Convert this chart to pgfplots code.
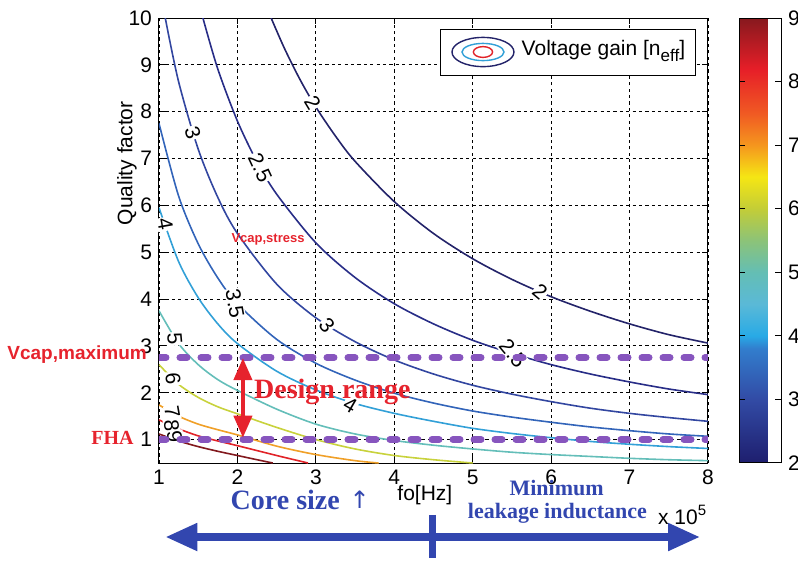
\documentclass[border=0pt]{standalone}
\usepackage{pgfplots}
\pgfplotsset{compat=1.18}
\usepackage{fontspec}
\setmainfont{Liberation Sans}
\newfontfamily\tms{Liberation Serif}
\newfontfamily\djv{DejaVu Sans}
\usetikzlibrary{arrows.meta}
\pgfkeys{/pgf/number format/assume math mode=true}
\definecolor{c2}{RGB}{35,35,105}
\definecolor{c25}{RGB}{40,45,135}
\definecolor{c3}{RGB}{50,70,160}
\definecolor{c35}{RGB}{50,100,185}
\definecolor{c4}{RGB}{50,160,215}
\definecolor{c5}{RGB}{100,190,185}
\definecolor{c6}{RGB}{200,210,60}
\definecolor{c7}{RGB}{240,160,40}
\definecolor{c8}{RGB}{225,35,40}
\definecolor{c9}{RGB}{130,25,30}
\definecolor{vpurple}{RGB}{135,85,190}
\definecolor{ared}{RGB}{230,35,45}
\definecolor{ablue}{RGB}{50,70,175}
\tikzset{cl/.style={line width=0.8pt, smooth},
  clab/.style={font=\fontsize{10.5}{11}\selectfont, fill=white, inner sep=0.5pt}}
\begin{document}
\begin{tikzpicture}
\path[use as bounding box] (-79.5pt,-49.5pt) rectangle (319.5pt,231.5pt);
\begin{axis}[
  scale only axis, width=274.5pt, height=222.5pt,
  xmin=1, xmax=8, ymin=0.5, ymax=10,
  xtick={1,...,8}, ytick={1,...,10},
  grid=major,
  major grid style={black, line width=0.4pt, dash pattern=on 1.6pt off 1.6pt},
  axis line style={black, line width=0.5pt},
  tick style={black, line width=0.5pt}, major tick length=3pt,
  tick label style={font=\fontsize{10.5}{12}\selectfont},
  clip mode=individual,
  colormap={refjet}{rgb255(0cm)=(30,30,110) rgb255(1cm)=(50,75,165) rgb255(1.8cm)=(50,125,205) rgb255(2cm)=(40,170,230) rgb255(2.5cm)=(90,185,215) rgb255(3cm)=(100,190,180) rgb255(3.5cm)=(140,195,120) rgb255(4cm)=(195,205,55) rgb255(4.5cm)=(245,230,20) rgb255(5cm)=(245,150,30) rgb255(5.5cm)=(240,90,35) rgb255(6.2cm)=(230,30,40) rgb255(7cm)=(135,25,30)},
  point meta min=2, point meta max=9,
  colorbar,
  colorbar style={at={(parent axis.north east)}, anchor=north west, xshift=7pt, width=21pt,
    ytick={2,...,9}, yticklabel pos=right,
    yticklabel style={font=\fontsize{10.5}{12}\selectfont},
    major tick length=3pt, tick style={black, line width=0.5pt}, axis line style={black, line width=0.5pt}},
]
\addplot[cl, c2] coordinates {(2.43,10) (2.6,9.35) (2.8,8.68) (3,8.1) (3.25,7.48) (3.5,6.94) (4,6.08) (4.5,5.4) (5,4.86) (5.5,4.42) (6,4.05) (6.5,3.74) (7,3.47) (7.5,3.24) (8,3.06)};
\addplot[cl, c25] coordinates {(1.56,10) (1.75,8.91) (2,7.8) (2.25,6.93) (2.5,6.24) (3,5.2) (3.5,4.46) (4,3.9) (4.5,3.47) (5,3.12) (5.5,2.84) (6,2.6) (6.5,2.4) (7,2.23) (7.5,2.08) (8,1.96)};
\addplot[cl, c3] coordinates {(1.08,10) (1.25,8.64) (1.5,7.2) (1.75,6.17) (2,5.4) (2.5,4.32) (3,3.6) (3.5,3.09) (4,2.7) (4.5,2.4) (5,2.16) (5.5,1.97) (6,1.81) (6.5,1.67) (7,1.56) (7.5,1.47) (8,1.39)};
\addplot[cl, c35] coordinates {(1,7.75) (1.25,6.2) (1.5,5.18) (1.75,4.45) (2,3.9) (2.5,3.14) (3,2.63) (3.5,2.27) (4,1.99) (4.5,1.78) (5,1.61) (5.5,1.48) (6,1.37) (6.5,1.27) (7,1.19) (7.5,1.12) (8,1.07)};
\addplot[cl, c4] coordinates {(1,5.95) (1.25,4.8) (1.5,4.03) (1.75,3.47) (2,3.05) (2.5,2.46) (3,2.06) (3.5,1.77) (4,1.56) (4.5,1.39) (5,1.24) (5.5,1.13) (6,1.04) (6.5,0.96) (7,0.9) (7.5,0.85) (8,0.81)};
\addplot[cl, c5] coordinates {(1,3.75) (1.25,3.05) (1.5,2.6) (1.75,2.28) (2,2.05) (2.5,1.65) (3,1.33) (3.5,1.12) (4,0.98) (4.5,0.88) (5,0.8) (5.5,0.73) (6,0.68) (6.5,0.64) (7,0.6) (7.5,0.57) (8,0.55)};
\addplot[cl, c6] coordinates {(1,2.6) (1.25,2.18) (1.5,1.9) (1.75,1.7) (2,1.55) (2.5,1.26) (3,1.0) (3.5,0.8) (4,0.66) (4.5,0.57) (5,0.5)};
\addplot[cl, c7] coordinates {(1,1.74) (1.25,1.5) (1.5,1.33) (1.75,1.21) (2,1.1) (2.5,0.86) (3,0.68) (3.5,0.55) (3.8,0.5)};
\addplot[cl, c8] coordinates {(1,1.42) (1.25,1.23) (1.5,1.08) (1.75,0.97) (2,0.87) (2.5,0.66) (2.9,0.5)};
\addplot[cl, c9] coordinates {(1,1.12) (1.25,0.97) (1.5,0.85) (1.75,0.75) (2,0.66) (2.25,0.57) (2.45,0.5)};
% contour labels
\node[clab, rotate=-59] at (axis cs:2.96,8.2) {2};
\node[clab, rotate=-40] at (axis cs:5.86,4.15) {2};
\node[clab, rotate=-65] at (axis cs:2.29,6.81) {2.5};
\node[clab, rotate=-50] at (axis cs:5.51,2.84) {2.5};
\node[clab, rotate=-72] at (axis cs:1.43,7.55) {3};
\node[clab, rotate=-50] at (axis cs:3.14,3.44) {3};
\node[clab, rotate=-80] at (axis cs:1.97,3.9) {3.5};
\node[clab, rotate=-80] at (axis cs:1.08,5.6) {4};
\node[clab, rotate=-30] at (axis cs:3.44,1.74) {4};
\node[clab, rotate=-85] at (axis cs:1.2,3.15) {5};
\node[clab, rotate=-85] at (axis cs:1.18,2.3) {6};
\node[clab, rotate=-80] at (axis cs:1.17,1.58) {7};
\node[clab, rotate=-85] at (axis cs:1.16,1.3) {8};
\node[clab, rotate=-85] at (axis cs:1.2,1.06) {9};
% design limits
\addplot[vpurple, line width=3.5pt, dash pattern=on 3.5pt off 7pt, line cap=round] coordinates {(1,2.75) (8,2.75)};
\addplot[vpurple, line width=3.5pt, dash pattern=on 3.5pt off 7pt, line cap=round] coordinates {(1,1.0) (8,1.0)};
\draw[ared, line width=2pt, {Triangle[width=9pt,length=11pt]}-{Triangle[width=9pt,length=11pt]}] (axis cs:2.07,2.74) -- (axis cs:2.07,1.04);
\node[ared, font=\tms\bfseries\fontsize{14}{16}\selectfont] at (axis cs:3.21,2.02) {Design range};
\node[ared, font=\bfseries\fontsize{6.5}{7}\selectfont] at (axis cs:2.39,5.28) {Vcap,stress};
\node[ared, font=\bfseries\fontsize{9.5}{10}\selectfont, anchor=east, inner sep=0pt] at (axis cs:0.85,2.81) {Vcap,maximum};
\node[ared, font=\tms\bfseries\fontsize{10}{12}\selectfont, anchor=east, inner sep=0pt] at (axis cs:0.68,1.03) {FHA};
\node[rotate=90, font=\fontsize{10.5}{12}\selectfont] at (axis cs:0.592,6.9) {Quality factor};
% legend
\draw[black, line width=0.5pt, fill=white] (axis cs:4.583,8.783) rectangle (axis cs:7.847,9.744);
\draw[c2, line width=0.7pt] (axis cs:5.131,9.274) ellipse [x radius=15.5pt, y radius=7.3pt];
\draw[c4, line width=0.7pt] (axis cs:5.131,9.274) ellipse [x radius=10.5pt, y radius=4.3pt];
\draw[c8, line width=0.7pt] (axis cs:5.131,9.274) ellipse [x radius=4.8pt, y radius=2.7pt];
\node[anchor=west, font=\fontsize{10.5}{12}\selectfont, inner sep=0pt] at (axis cs:5.62,9.3) {Voltage gain [n\raisebox{-0.5ex}{\fontsize{8.5}{9}\selectfont eff}]};
% bottom annotations
\node[ablue, font=\tms\bfseries\fontsize{14}{16}\selectfont] at (axis cs:2.61,-0.29) {Core size};
\node[ablue, font=\djv\fontsize{12}{14}\selectfont] at (axis cs:3.56,-0.29) {↑};
\node[font=\fontsize{10.5}{12}\selectfont] at (axis cs:4.39,-0.18) {fo[Hz]};
\node[ablue, font=\tms\bfseries\fontsize{11}{13}\selectfont] at (axis cs:6.07,-0.03) {Minimum};
\node[ablue, font=\tms\bfseries\fontsize{11}{13}\selectfont] at (axis cs:6.08,-0.57) {leakage inductance};
\node[font=\fontsize{10.5}{12}\selectfont] at (axis cs:7.67,-0.6) {x 10\raisebox{0.8ex}{\fontsize{7.5}{8}\selectfont 5}};
\draw[ablue, line width=3.8pt, {Triangle[width=13pt,length=16pt]}-{Triangle[width=13pt,length=16pt]}] (axis cs:1.08,-1.08) -- (axis cs:7.90,-1.08);
\draw[ablue, line width=3.5pt] (axis cs:4.49,-0.61) -- (axis cs:4.49,-1.53);
\end{axis}
\end{tikzpicture}
\end{document}
